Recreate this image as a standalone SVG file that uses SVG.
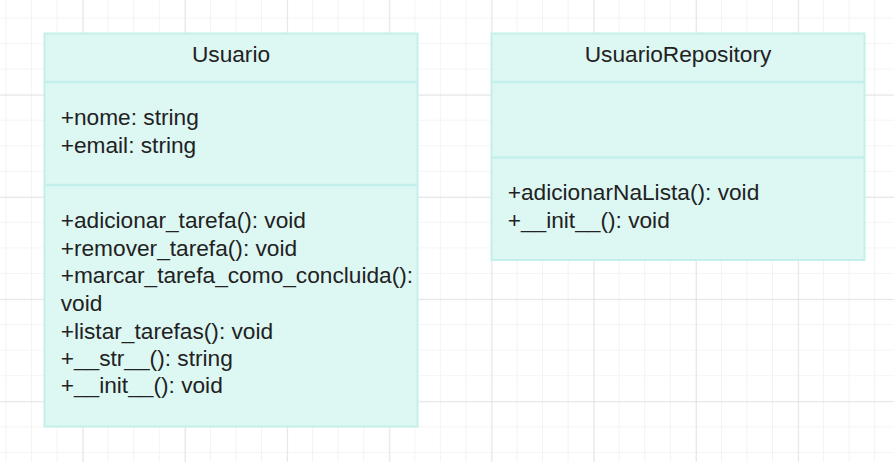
<svg xmlns="http://www.w3.org/2000/svg" width="894" height="462" viewBox="0 0 894 462">
<style>
.box{fill:#ddf7f3;stroke:#c3f0ea;stroke-width:2}
.div{stroke:#c3f0ea;stroke-width:2.5}
.t{font-family:"Liberation Sans",Arial,sans-serif;font-size:22.7px;fill:#222}
.h{text-anchor:middle}
</style>
<defs>
<pattern id="minor" x="5.5" y="17.5" width="25.55" height="25.55" patternUnits="userSpaceOnUse">
<path d="M0 0V25.55M0 0H25.55" fill="none" stroke="#ececec" stroke-width="1.2"/>
</pattern>
<pattern id="major" x="82.7" y="94.7" width="102.2" height="102.2" patternUnits="userSpaceOnUse">
<path d="M0 0V102.2M0 0H102.2" fill="none" stroke="#dedede" stroke-width="1.4"/>
</pattern>
</defs>
<rect width="894" height="462" fill="#fff"/>
<rect width="894" height="462" fill="url(#minor)"/>
<rect width="894" height="462" fill="url(#major)"/>
<g id="connectors"></g>
<g id="Usuario">
<rect class="box" x="44.5" y="33.5" width="373" height="393"/>
<line class="div" x1="44.5" y1="82" x2="417.5" y2="82"/>
<line class="div" x1="44.5" y1="185" x2="417.5" y2="185"/>
<text class="t h" x="231" y="62.3">Usuario</text>
<text class="t" x="60.7" y="125">+nome: string</text>
<text class="t" x="60.7" y="152.6">+email: string</text>
<text class="t" x="60.7" y="228.3">+adicionar_tarefa(): void</text>
<text class="t" x="60.7" y="255.9">+remover_tarefa(): void</text>
<text class="t" x="60.7" y="283.4">+marcar_tarefa_como_concluida():</text>
<text class="t" x="60.7" y="311">void</text>
<text class="t" x="60.7" y="338.5">+listar_tarefas(): void</text>
<text class="t" x="60.7" y="366">+__str__(): string</text>
<text class="t" x="60.7" y="393.4">+__init__(): void</text>
</g>
<g id="UsuarioRepository">
<rect class="box" x="491.5" y="33.5" width="373" height="226.5"/>
<line class="div" x1="491.5" y1="82" x2="864.5" y2="82"/>
<line class="div" x1="491.5" y1="157.5" x2="864.5" y2="157.5"/>
<text class="t h" x="678" y="62.3">UsuarioRepository</text>
<text class="t" x="507.7" y="200">+adicionarNaLista(): void</text>
<text class="t" x="507.7" y="227.7">+__init__(): void</text>
</g>
</svg>
